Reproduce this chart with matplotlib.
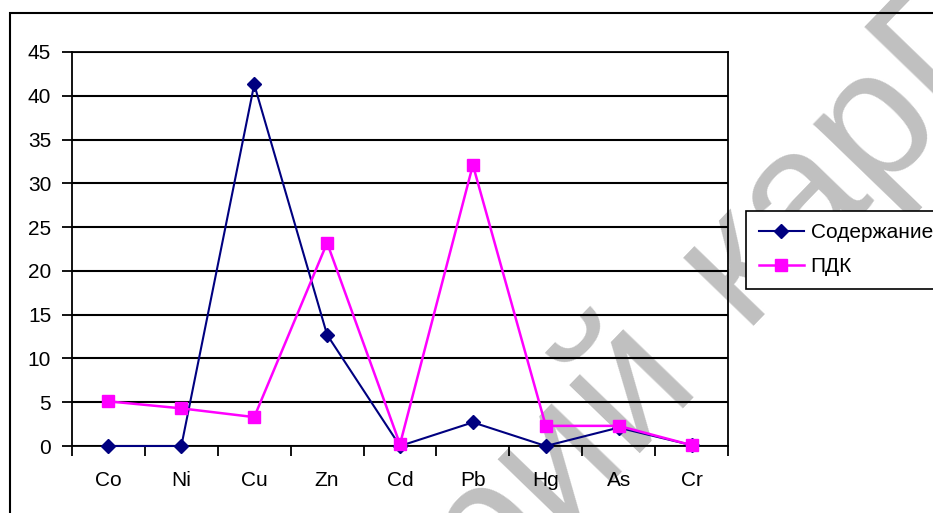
import matplotlib
matplotlib.use("Agg")
import matplotlib.pyplot as plt
from matplotlib.patches import Rectangle
import numpy as np

# data
elements = ["Co", "Ni", "Cu", "Zn", "Cd", "Pb", "Hg", "As", "Cr"]
content = [0, 0, 41.3, 12.7, 0, 2.7, 0, 2.1, 0.1]
pdk = [5.1, 4.3, 3.3, 23.2, 0.2, 32.1, 2.3, 2.3, 0.1]
series_names = ["Содержание", "ПДК"]
yticks = list(range(0, 46, 5))

plt.rcParams["font.family"] = ["Liberation Sans", "DejaVu Sans"]
fs = 15

W, H = 933, 513
fig = plt.figure(figsize=(W / 100, H / 100), dpi=100)

# outer chart border (runs off right and bottom edge)
fig.patches.append(Rectangle((10 / W, -0.1), 1.0, 1 - 13 / H + 0.1,
                             transform=fig.transFigure, fill=False,
                             ec="black", lw=1.5))

ax = fig.add_axes([72 / W, 1 - 446 / H, 656 / W, 394 / H])
ax.set_facecolor("none")  # let the watermark show through the plot area
x = np.arange(1, len(elements) + 1)

ax.plot(x, content, color="#000080", marker="D", ms=7, lw=1.5,
        label=series_names[0], clip_on=False, zorder=3)
ax.plot(x, pdk, color="#FF00FF", marker="s", ms=8, lw=1.8,
        label=series_names[1], clip_on=False, zorder=4)

ax.set_xlim(0.5, len(elements) + 0.5)
ax.set_ylim(0, 45)
ax.set_yticks(yticks)
ax.yaxis.grid(True, color="black", lw=1.5)
ax.set_axisbelow(True)

ax.set_xticks(x)
ax.set_xticklabels(elements)
ax.set_xticks(np.arange(0.5, len(elements) + 1, 1), minor=True)
ax.tick_params(axis="x", which="major", length=0, pad=18, labelsize=fs)
ax.tick_params(axis="x", which="minor", length=7, width=1.3, direction="out")
ax.tick_params(axis="y", length=7, width=1.3, pad=8, labelsize=fs)
for sp in ax.spines.values():
    sp.set_color("black")
    sp.set_linewidth(1.3)

leg = ax.legend(loc="upper left", bbox_to_anchor=(746 / W, 1 - 211 / H),
                bbox_transform=fig.transFigure, frameon=True, fancybox=False,
                edgecolor="black", facecolor="white", framealpha=1, fontsize=fs,
                handlelength=2.2, handletextpad=0.3, borderpad=0.6,
                labelspacing=0.7, borderaxespad=0)
leg.get_frame().set_linewidth(1.2)

# watermark, drawn underneath the chart
ang = 46
fig.text(699 / W, 1 - 376 / H, "Репозиторий", fontsize=133, color="#c0c0c0",
         rotation=ang, rotation_mode="anchor", ha="right", va="baseline",
         zorder=-1)
fig.text(741 / W, 1 - 326 / H, "карГУ", fontsize=133, color="#c0c0c0",
         rotation=ang, rotation_mode="anchor", ha="left", va="baseline",
         zorder=-1)

fig.savefig("out.png", dpi=100)
